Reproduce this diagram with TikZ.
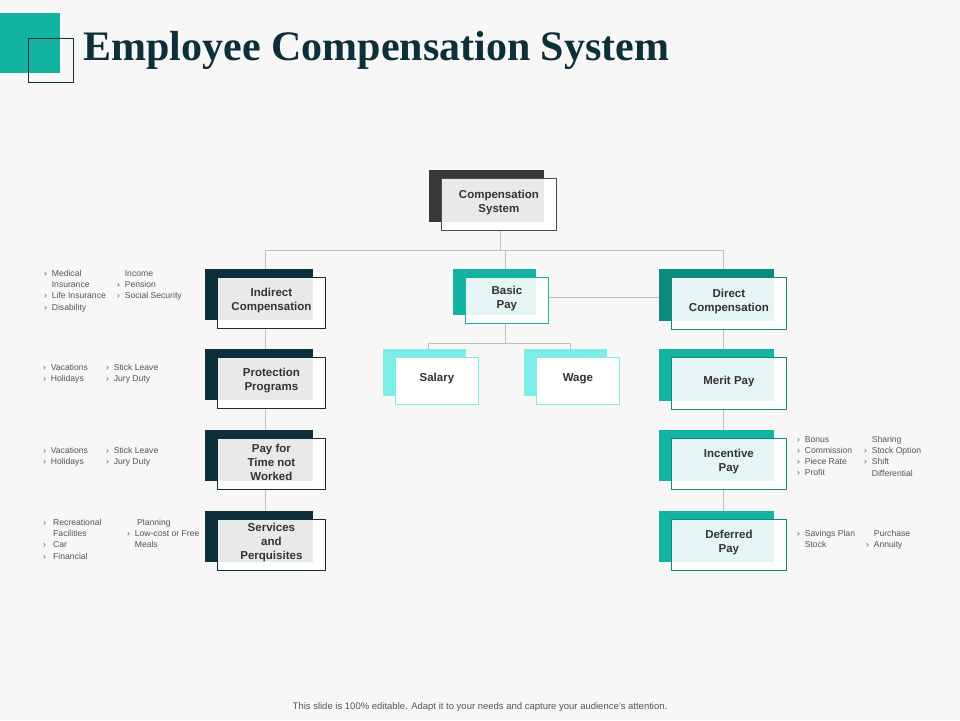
\documentclass[tikz,border=0pt]{standalone}
\usepackage{fontspec}
\setmainfont{Liberation Sans}
\newfontfamily\titlefont{Liberation Serif}
\definecolor{navy}{HTML}{0D2F3A}
\definecolor{teal1}{HTML}{12B3A0}
\definecolor{teal2}{HTML}{0B8A7E}
\definecolor{cyanl}{HTML}{7EEDE8}
\definecolor{innerg}{HTML}{E8EAEA}
\definecolor{innerc}{HTML}{E4F5F4}
\definecolor{txt}{HTML}{333333}
\definecolor{ltxt}{HTML}{555555}
\tikzset{
 lbl/.style={font=\fontsize{11.5}{14}\selectfont\bfseries, text=txt, align=center},
 sm/.style={font=\fontsize{8.6}{11.2}\selectfont, text=ltxt, anchor=north west, align=left, inner sep=0pt},
 conn/.style={draw=black!25, line width=0.8pt},
}
\newcommand\mybox[9]{% name,x,y,w,h,back,inner,border,text
 \fill[#6] (#2,#3) rectangle ++(#4,#5);
 \node[draw=#8, fill=white, line width=0.8pt, minimum width=#4pt, minimum height=#5pt, anchor=north west, inner sep=0pt] (#1) at (#2+12,#3+8) {};
 \fill[#7] (#2+12.5,#3+8.5) rectangle (#2+#4,#3+#5);
 \node[lbl] at ([yshift=2pt]#1.center) {#9};
}
\begin{document}
\begin{tikzpicture}[x=1pt,y=-1pt]
\useasboundingbox (0,0) rectangle (960,720);
\fill[white!97!black] (0,0) rectangle (960,720);
\fill[teal1] (0,13) rectangle (60,73);
\draw[navy, line width=0.8pt] (28,38) rectangle (73,82);
\node[anchor=west, text=navy, font=\titlefont\fontsize{42}{46}\selectfont\bfseries] (title) at (80,50) {Employee Compensation System};
\draw[conn] (500,230) -- (500,250);
\draw[conn] (265,269) |- (723,250) -- (723,269);
\draw[conn] (505,250) -- (505,269);
\draw[conn] (265,269) -- (265,520);
\draw[conn] (723,269) -- (723,520);
\draw[conn] (547,297) -- (659,297);
\draw[conn] (505,323) -- (505,343);
\draw[conn] (428,349) |- (570,343) -- (570,349);
\mybox{cs}{429}{170}{115}{52}{black!78}{innerg}{black!70}{Compensation\\System}
\mybox{ic}{205}{269}{108}{51}{navy}{innerg}{navy}{Indirect\\Compensation}
\mybox{pp}{205}{349}{108}{51}{navy}{innerg}{navy}{Protection\\Programs}
\mybox{pt}{205}{430}{108}{51}{navy}{innerg}{navy}{Pay for\\Time not\\Worked}
\mybox{sp}{205}{511}{108}{51}{navy}{innerg}{navy}{Services\\and\\Perquisites}
\mybox{bp}{453}{269}{83}{46}{teal1}{innerc}{teal1}{Basic\\Pay}
\mybox{sa}{383}{349}{83}{47}{cyanl}{white}{cyanl}{Salary}
\mybox{wa}{524}{349}{83}{47}{cyanl}{white}{cyanl}{Wage}
\mybox{dc}{659}{269}{115}{52}{teal2}{innerc}{teal2}{Direct\\Compensation}
\mybox{mp}{659}{349}{115}{52}{teal1}{innerc}{teal2}{Merit Pay}
\mybox{ip}{659}{430}{115}{51}{teal1}{innerc}{teal2}{Incentive\\Pay}
\mybox{dp}{659}{511}{115}{51}{teal1}{innerc}{teal2}{Deferred\\Pay}
\node[sm] (t1) at (44,270) {›\ \ Medical\\\phantom{›\ \ }Insurance\\›\ \ Life Insurance\\›\ \ Disability};
\node[sm] (t2) at (117,270) {\phantom{›\ \ }Income\\›\ \ Pension\\›\ \ Social Security};
\node[sm] (t3) at (43,364) {›\ \ Vacations\\›\ \ Holidays};
\node[sm] (t4) at (106,364) {›\ \ Stick Leave\\›\ \ Jury Duty};
\node[sm] (t5) at (43,447) {›\ \ Vacations\\›\ \ Holidays};
\node[sm] (t6) at (106,447) {›\ \ Stick Leave\\›\ \ Jury Duty};
\node[sm] (t7) at (43,519) {›\ \ \ Recreational\\\phantom{›\ \ \ }Facilities\\›\ \ \ Car\\›\ \ \ Financial};
\node[sm] (t8) at (127,519) {\phantom{›\ \ \ }Planning\\›\ \ Low-cost or Free\\\phantom{›\ \ }Meals};
\node[sm] (t9) at (797,436) {›\ \ Bonus\\›\ \ Commission\\›\ \ Piece Rate\\›\ \ Profit};
\node[sm] (t10) at (864,436) {\phantom{›\ \ }Sharing\\›\ \ Stock Option\\›\ \ Shift\\\phantom{›\ \ }Differential};
\node[sm] (t11) at (797,530) {›\ \ Savings Plan\\\phantom{›\ \ }Stock};
\node[sm] (t12) at (866,530) {\phantom{›\ \ }Purchase\\›\ \ Annuity};
\node[font=\fontsize{9.5}{11}\selectfont, text=ltxt] (foot) at (480,707) {This slide is 100\% editable. Adapt it to your needs and capture your audience's attention.};
\end{tikzpicture}
\end{document}
